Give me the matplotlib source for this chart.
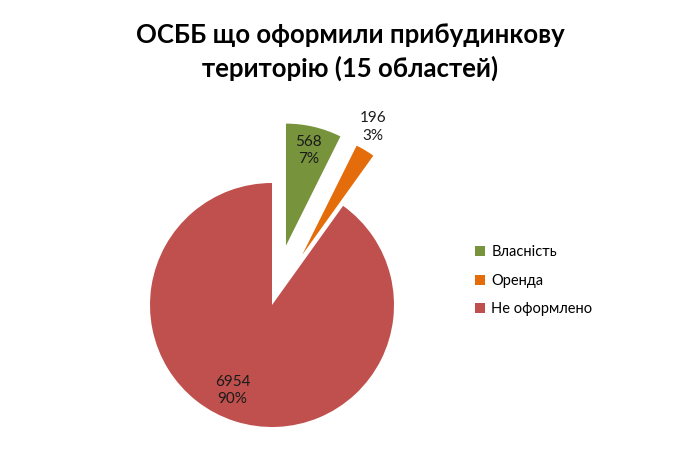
import numpy as np
import matplotlib
matplotlib.use('Agg')
import matplotlib.pyplot as plt

plt.rcParams['font.family'] = ['Lato', 'DejaVu Sans']

# дані
categories = ['Власність', 'Оренда', 'Не оформлено']
values = [568, 196, 6954]
percents = ['7%', '3%', '90%']
colors = ['#77933c', '#e46c0a', '#c0504d']
explode = [0.5, 0.48, 0.0]
label_dist = [0.8, 1.2, 0.77]
label_turn = [0, 2, -7]

fig = plt.figure(figsize=(7, 4.71), dpi=100)

# вісь для кола: центр (272,166) px, радіус 122 px
half = 150
ax = fig.add_axes([(272 - half) / 700, (166 - half) / 471, 2 * half / 700, 2 * half / 471])
wedges, _ = ax.pie(values, colors=colors, explode=explode, startangle=90,
                   counterclock=False, radius=1.0,
                   wedgeprops=dict(linewidth=0))
lim = half / 122
ax.set_xlim(-lim, lim)
ax.set_ylim(-lim, lim)
ax.set_aspect('equal')
ax.axis('off')

# підписи даних
for w, v, p, d, t in zip(wedges, values, percents, label_dist, label_turn):
    ang = np.deg2rad((w.theta1 + w.theta2) / 2 + t)
    cx, cy = w.center
    ax.text(cx + d * np.cos(ang), cy + d * np.sin(ang), f'{v}\n{p}',
            ha='center', va='center', fontsize=11, linespacing=1.3,
            color='#1a1a1a')

# легенда
fig.legend(wedges, categories, loc='upper left', bbox_to_anchor=(462 / 700, 1 - 232 / 471),
           frameon=False, fontsize=10.5, handlelength=0.7, handleheight=0.7,
           handletextpad=0.4, labelspacing=1.0)

fig.text(0.5, 1 - 35 / 471, 'ОСББ що оформили прибудинкову', ha='center', va='center',
         fontsize=18.5, fontweight='bold')
fig.text(0.5, 1 - 68 / 471, 'територію (15 областей)', ha='center', va='center',
         fontsize=18.5, fontweight='bold')

fig.savefig('out.png', dpi=100)
